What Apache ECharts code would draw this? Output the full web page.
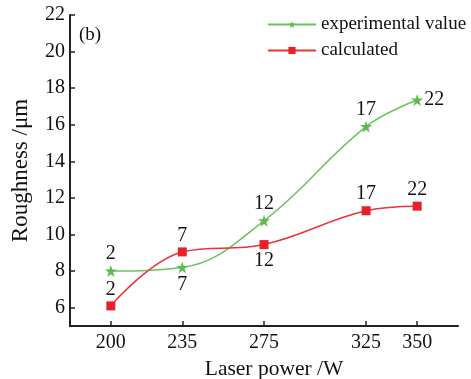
<!DOCTYPE html>
<html>
<head>
<meta charset="utf-8">
<script src="https://cdn.jsdelivr.net/npm/echarts@6/dist/echarts.min.js"></script>
<style>
  html, body { margin: 0; padding: 0; background: #fff; }
  #chart { width: 471px; height: 379px; }
</style>
</head>
<body>
<div id="chart"></div>
<script>
// laser power (W) and roughness (um)
var power = [200, 235, 275, 325, 350];
var experimental = [8.0, 8.2, 10.75, 15.9, 17.35];
var calculated = [6.1, 9.05, 9.45, 11.3, 11.55];
var pointLabels = ['2', '7', '12', '17', '22'];
var yTicks = [6, 8, 10, 12, 14, 16, 18, 20, 22];

// where each number sits next to its marker
var expLabelPos = ['top', 'bottom', 'top', 'top', 'right'];
var calLabelPos = ['top', 'top', 'bottom', 'top', 'top'];

var FONT = 'Liberation Serif';
var STAR = 'path://M50,0 L61.8,35.4 L100,35.4 L69.1,57.3 L80.9,95.1 L50,72.4 L19.1,95.1 L30.9,57.3 L0,35.4 L38.2,35.4 Z';

function points(values, pos) {
  return values.map(function (v, i) {
    return {
      value: [power[i], v],
      label: { show: true, position: pos[i], formatter: pointLabels[i] }
    };
  });
}

var chart = echarts.init(document.getElementById('chart'));
var option = {
  animation: false,
  backgroundColor: '#fff',
  textStyle: { fontFamily: FONT, color: '#111' },
  grid: { left: 70, right: 13, top: 15, bottom: 53, outerBoundsMode: 'none' },
  legend: {
    orient: 'vertical',
    left: 262,
    top: 10,
    itemWidth: 48,
    itemHeight: 9,
    itemGap: 7,
    textStyle: { fontFamily: FONT, fontSize: 19, color: '#111' },
    data: ['experimental value', 'calculated']
  },
  graphic: [{
    type: 'text',
    left: 79,
    top: 26,
    style: { text: '(b)', font: '19px "Liberation Serif"', fill: '#111' }
  }],
  xAxis: {
    type: 'value',
    min: 180,
    max: 370,
    name: 'Laser power /W',
    nameLocation: 'middle',
    nameGap: 29,
    nameTextStyle: { fontFamily: FONT, fontSize: 21.5, color: '#111', padding: [0, 0, 0, 20] },
    axisLine: { lineStyle: { color: '#222', width: 2 } },
    axisTick: { inside: true, length: 5, customValues: power, lineStyle: { color: '#222', width: 1.5 } },
    axisLabel: { customValues: power, fontFamily: FONT, fontSize: 20, color: '#111', margin: 7 },
    splitLine: { show: false }
  },
  yAxis: {
    type: 'value',
    min: 5,
    max: 22,
    name: 'Roughness /μm',
    nameLocation: 'middle',
    nameGap: 38,
    nameTextStyle: { fontFamily: FONT, fontSize: 23, color: '#111' },
    axisLine: { show: true, lineStyle: { color: '#222', width: 2 } },
    axisTick: { show: true, inside: true, length: 5, customValues: yTicks, lineStyle: { color: '#222', width: 1.5 } },
    axisLabel: { customValues: yTicks, fontFamily: FONT, fontSize: 20, color: '#111', margin: 5 },
    splitLine: { show: false }
  },
  series: [{
    name: 'experimental value',
    type: 'line',
    smooth: 0.4,
    symbol: STAR,
    symbolSize: 12,
    color: '#5dbb4c',
    lineStyle: { width: 1.5, color: '#6cc35e' },
    label: { fontFamily: FONT, fontSize: 20, color: '#111', distance: 1 },
    data: points(experimental, expLabelPos)
  }, {
    name: 'calculated',
    type: 'line',
    smooth: 0.4,
    symbol: 'rect',
    symbolSize: 9,
    color: '#e8202a',
    lineStyle: { width: 1.5, color: '#e8343a' },
    label: { fontFamily: FONT, fontSize: 20, color: '#111', distance: 2 },
    data: points(calculated, calLabelPos)
  }]
};
chart.setOption(option);
</script>
</body>
</html>
